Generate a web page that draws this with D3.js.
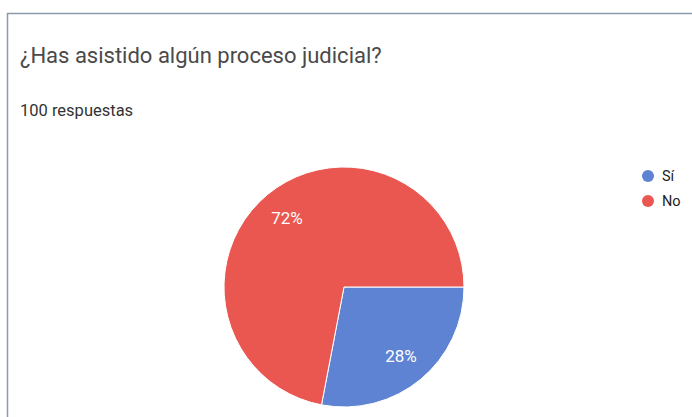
<!DOCTYPE html>
<html><head><meta charset="utf-8">
<script src="https://cdn.jsdelivr.net/npm/d3@7"></script>
<style>
body{margin:0;background:#fff;}
svg{display:block;font-family:Roboto, Arial, sans-serif;}
</style></head><body>
<svg id="chart" width="692" height="417"></svg>
<script>
const categories = ["Sí", "No"];
const values = [28, 72];
const colors = ["#5e83d3", "#ea5650"];
const title = "¿Has asistido algún proceso judicial?";
const subtitle = "100 respuestas";

const svg = d3.select("#chart");
// frame
svg.append("path").attr("d","M7.5,417 L7.5,13.5 L692,13.5")
  .attr("fill","none").attr("stroke","#8a9bb0").attr("stroke-width",1.5);

svg.append("text").attr("x",20).attr("y",63).attr("font-size",22)
  .attr("fill","#4a4a4a").text(title);
svg.append("text").attr("x",20).attr("y",116).attr("font-size",16.5)
  .attr("fill","#333").text(subtitle);

const cx = 344, cy = 287, r = 120;
const data = categories.map((c,i)=>({cat:c,val:values[i],color:colors[i]}));
const pie = d3.pie().value(d=>d.val).sort(null)
  .startAngle(Math.PI/2).endAngle(Math.PI/2 + 2*Math.PI);
const arcs = pie(data);
const arc = d3.arc().innerRadius(0).outerRadius(r);
const g = svg.append("g").attr("transform",`translate(${cx},${cy})`);
g.selectAll("path").data(arcs).join("path")
  .attr("d",arc).attr("fill",d=>d.data.color)
  .attr("stroke","#fff").attr("stroke-width",1);
const labelArc = d3.arc().innerRadius(r*0.745).outerRadius(r*0.745);
g.selectAll("text").data(arcs).join("text")
  .attr("transform",d=>`translate(${labelArc.centroid(d)})`)
  .attr("text-anchor","middle").attr("dy","0.35em")
  .attr("font-size",17).attr("fill","#fff")
  .text(d=>Math.round(d.data.val/d3.sum(values)*100)+"%");

const leg = svg.append("g");
const ly = d3.scalePoint().domain(categories).range([176,201]);
categories.forEach((c,i)=>{
  leg.append("circle").attr("cx",648).attr("cy",ly(c)).attr("r",6).attr("fill",colors[i]);
  leg.append("text").attr("x",662).attr("y",ly(c)).attr("dy","0.35em")
    .attr("font-size",14.5).attr("fill","#222").text(c);
});
</script>
</body></html>
